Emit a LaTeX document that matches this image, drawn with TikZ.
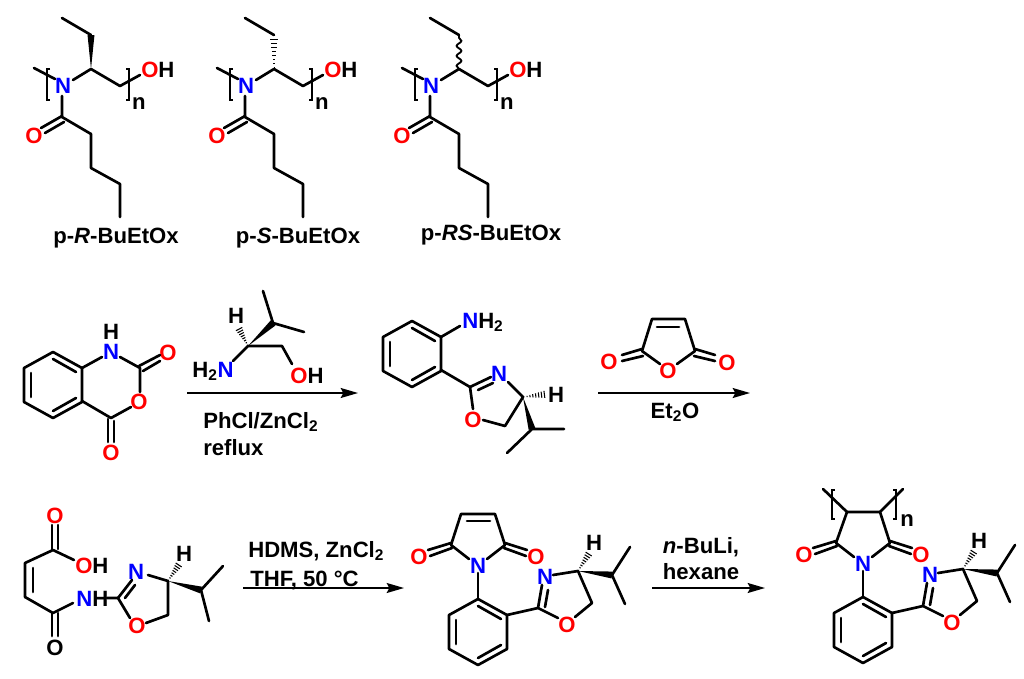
\documentclass[tikz,border=0pt]{standalone}
\usepackage{fontspec}
\setmainfont{Liberation Sans}
\usetikzlibrary{calc,arrows.meta,decorations.pathmorphing}
\newcommand{\wedgebond}[2]{\fill (#1) -- ($(#2)!2.6pt!90:(#1)$) -- ($(#2)!2.6pt!-90:(#1)$) -- cycle;}
\newcommand{\hashbond}[2]{\foreach \t in {0.05,0.17,...,0.95}{
  \pgfmathsetmacro\w{\t*3}
  \draw[line width=0.8pt] ($(#1)!\t!(#2)!\w pt!90:(#2)$) -- ($(#1)!\t!(#2)!\w pt!-90:(#2)$);}}
\tikzset{
lbl/.style={font=\fontsize{16.6}{17}\selectfont\bfseries,inner sep=0pt,text height=12pt,text depth=0pt},
atomO/.style={lbl,text=red},
atomN/.style={lbl,text=blue},
bond/.style={line width=2pt,line cap=round,line join=round},
bracket/.style={line width=1.6pt},
rxn/.style={line width=1.2pt,-{Stealth[length=13pt,width=7.5pt,inset=2pt]}},
benzene/.pic={
  \draw[bond] (0,-33) -- (29,-17) -- (29,17) -- (0,33) -- (-29,17) -- (-29,-17) -- cycle;
  \draw[bond] (0,-26) -- (23,-13);
  \draw[bond] (-22,-12) -- (-22,12);
  \draw[bond] (0,26) -- (23,13);
  },
polymer/.pic={
  \draw[bond] (34,68) -- (55,79);
  \draw[bracket] (50,69) -- (47,69) -- (47,100) -- (50,100);
  \draw[bracket] (126,69) -- (129,69) -- (129,100) -- (126,100);
  \node[atomN] (nitro) at (63,85) {N};
  \node[lbl,anchor=west] (oh) at (141,69) {\textcolor{red}{O}H};
  \node[lbl] (rep) at (139,101) {n};
  \node[atomO] (oxo) at (34,135) {O};
  \draw[bond] (73,80) -- (91,69) -- (120,86) -- (140,75);
  \draw[bond] (62,96) -- (62,117) -- (91,134) -- (91,168) -- (120,184) -- (120,217);
  \draw[bond] (62,116) -- (41,128);
  \draw[bond] (64,122) -- (45,133);
  \draw[bond] (62,18) -- (91,35);
  },
arylimide/.pic={
  \pic at (478,632) {benzene};
  \node[atomN] (nitro) at (478,565) {N};
  \node[atomO] (oxl) at (419,556) {O};
  \node[atomO] (oxr) at (536,556) {O};
  \node[atomN] (nring) at (545,576) {N};
  \node[atomO] (oring) at (567,624) {O};
  \node[lbl] (hyd) at (594,542) {H};
  \draw[bond] (478,573) -- (478,599);
  \draw[bond] (451,545) -- (469,559);
  \draw[bond] (505,545) -- (487,559);
  \draw[bond] (451,543) -- (428,550);
  \draw[bond] (452,548) -- (430,556);
  \draw[bond] (505,543) -- (527,550);
  \draw[bond] (504,548) -- (526,556);
  \draw[bond] (507,615) -- (538,608) -- (558,618);
  \draw[bond] (538,608) -- (542,585);
  \draw[bond] (545,607) -- (548,590);
  \draw[bond] (553,575) -- (578,571) -- (592,603) -- (575,617);
  \wedgebond{578,571}{612,575}
  \hashbond{578,571}{590,552}
  \draw[bond] (630,547) -- (612,575) -- (625,604);
  }
}
\begin{document}
\begin{tikzpicture}[x=0.75pt,y=-0.75pt]
\useasboundingbox (0,0) rectangle (1024,678);
% polymers
\pic at (0,0) {polymer};
\pic at (183,0) {polymer};
\pic at (368,0) {polymer};
\wedgebond{91,69}{91,35}
\hashbond{274,69}{274,36}
\draw[line width=1.4pt,decorate,decoration={snake,segment length=7.5pt,amplitude=1.8pt}] (459,69) -- (459,35);
\node[lbl] (nameR) at (116,235) {p-\textit{R}-BuEtOx};
\node[lbl] (nameS) at (298,235) {p-\textit{S}-BuEtOx};
\node[lbl] (nameRS) at (491,232) {p-\textit{RS}-BuEtOx};
% isatoic anhydride
\pic at (53,385) {benzene};
\node[atomN] (n1) at (111,351) {N};
\node[lbl] (h1) at (111,331) {H};
\node[atomO] (o1) at (168,352) {O};
\node[atomO] (o2) at (139,401) {O};
\node[atomO] (o3) at (111,452) {O};
\draw[bond] (82,368) -- (102,357);
\draw[bond] (120,357) -- (140,368) -- (140,392);
\draw[bond] (139,366) -- (160,355);
\draw[bond] (143,371) -- (160,361);
\draw[bond] (131,407) -- (111,418) -- (82,401);
\draw[bond] (108,419) -- (108,442);
\draw[bond] (114,421) -- (114,442);
% valinol
\node[lbl] (h2) at (236,315) {H};
\node[lbl] (nh2) at (213,369) {H\textsubscript{2}\textcolor{blue}{N}};
\node[lbl] (oh2) at (307,375) {\textcolor{red}{O}H};
\wedgebond{248,346}{273,323}
\hashbond{248,346}{238,327}
\draw[bond] (263,291) -- (273,323) -- (304,332);
\draw[bond] (233,361) -- (248,346) -- (282,346) -- (292,364);
\coordinate (a1s) at (187,393);
\coordinate (a1e) at (358,393);
\draw[rxn] (a1s) -- (a1e);
\node[lbl,anchor=west] (c1a) at (203,420) {PhCl/ZnCl\textsubscript{2}};
\node[lbl,anchor=west] (c1b) at (203,447) {reflux};
% aminophenyl oxazoline
\pic at (412,354) {benzene};
\node[atomN,anchor=west] (nh3) at (462,320) {N\textcolor{black}{H\textsubscript{2}}};
\node[atomN] (n3) at (499,373) {N};
\node[atomO] (o4) at (473,419) {O};
\node[lbl] (h3) at (556,394) {H};
\draw[bond] (441,337) -- (460,326);
\draw[bond] (441,370) -- (470,387) -- (473,409);
\draw[bond] (470,387) -- (491,377);
\draw[bond] (478,390) -- (493,383);
\draw[bond] (508,382) -- (523,397) -- (505,426) -- (483,420);
\wedgebond{523,397}{532,429}
\hashbond{523,397}{547,394}
\draw[bond] (564,429) -- (532,429) -- (507,453);
% maleic anhydride
\node[atomO] (o5) at (609,361) {O};
\node[atomO] (o6) at (727,362) {O};
\node[atomO] (o7) at (668,370) {O};
\draw[bond] (660,364) -- (642,351) -- (652,319) -- (685,319) -- (695,351) -- (677,364);
\draw[bond] (657,327) -- (679,327);
\draw[bond] (642,349) -- (622,355);
\draw[bond] (643,356) -- (622,361);
\draw[bond] (695,349) -- (715,355);
\draw[bond] (694,356) -- (715,361);
\coordinate (a2s) at (598,393);
\coordinate (a2e) at (750,393);
\draw[rxn] (a2s) -- (a2e);
\node[lbl] (c2) at (675,410) {Et\textsubscript{2}O};
% maleamic acid
\node[atomO] (o8) at (55,515) {O};
\node[lbl,anchor=west] (oh3) at (75,565) {\textcolor{red}{O}H};
\node[lbl,anchor=west] (nh4) at (76,598) {\textcolor{blue}{N}H};
\node[lbl] (o9) at (55,647) {O};
\node[atomN] (n5) at (136,571) {N};
\node[atomO] (o10) at (137,625) {O};
\node[lbl] (h4) at (184,553) {H};
\draw[bond] (52,525) -- (52,550);
\draw[bond] (58,525) -- (58,549);
\draw[bond] (74,560) -- (53,550) -- (25,563) -- (25,597) -- (53,613) -- (73,603);
\draw[bond] (33,568) -- (33,592);
\draw[bond] (52,613) -- (52,636);
\draw[bond] (58,613) -- (58,636);
\draw[bond] (107,598) -- (118,598) -- (130,618);
\draw[bond] (118,598) -- (132,580);
\draw[bond] (125,598) -- (135,585);
\draw[bond] (148,575) -- (168,581) -- (168,615) -- (146,623);
\wedgebond{168,581}{201,590}
\hashbond{168,581}{180,563}
\draw[bond] (223,566) -- (201,590) -- (209,621);
\coordinate (a3s) at (243,588);
\coordinate (a3e) at (404,588);
\draw[rxn] (a3s) -- (a3e);
\node[lbl,anchor=west] (c3a) at (248,549) {HDMS, ZnCl\textsubscript{2}};
\node[lbl,anchor=west] (c3b) at (250,578) {THF, 50 °C};
% maleimide
\pic at (0,0) {arylimide};
\draw[bond] (451,545) -- (461,514) -- (495,514) -- (505,545);
\draw[bond] (467,521) -- (490,521);
\coordinate (a4s) at (652,588);
\coordinate (a4e) at (765,588);
\draw[rxn] (a4s) -- (a4e);
\node[lbl] (c4a) at (701,545) {\textit{n}-BuLi,};
\node[lbl] (c4b) at (701,571) {hexane};
% polyimide
\pic at (385,-2) {arylimide};
\draw[bond] (836,543) -- (847,512) -- (880,512) -- (890,543);
\draw[bond] (823,489) -- (847,512);
\draw[bond] (880,512) -- (903,489);
\draw[bracket] (835,490) -- (832,490) -- (832,519) -- (835,519);
\draw[bracket] (893,490) -- (896,490) -- (896,519) -- (893,519);
\node[lbl] (rep2) at (907,518) {n};
\end{tikzpicture}
\end{document}
